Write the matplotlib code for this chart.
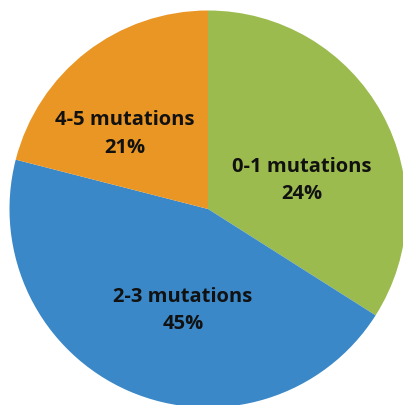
import matplotlib
matplotlib.use("Agg")
import matplotlib.pyplot as plt

# Share of samples by mutation count
categories = ["0-1 mutations", "2-3 mutations", "4-5 mutations"]
shares = [34, 45, 21]
pct_labels = ["24%", "45%", "21%"]
colors = ["#9bbb4f", "#3a88c8", "#e99624"]

W, H = 403, 406
fig = plt.figure(figsize=(W / 100, H / 100), dpi=100)
cx, cy, r = 208, 210, 198.5
ax = fig.add_axes([(cx - r) / W, (H - cy - r) / H, 2 * r / W, 2 * r / H])

ax.pie(shares, colors=colors, startangle=90, counterclock=False,
       radius=1.0, wedgeprops=dict(linewidth=0))
ax.set_xlim(-1, 1)
ax.set_ylim(-1, 1)
ax.set_aspect("equal")
ax.axis("off")

# text anchors inside each wedge (data units)
label_pos = [(0.474, 0.149), (-0.126, -0.506), (-0.421, 0.383)]
for name, pct, (x, y) in zip(categories, pct_labels, label_pos):
    ax.text(x, y, f"{name}\n{pct}", ha="center", va="center",
            fontsize=14.5, fontweight="bold", family="Open Sans",
            linespacing=1.5, color="#111111")

fig.savefig("out.png", dpi=100)
